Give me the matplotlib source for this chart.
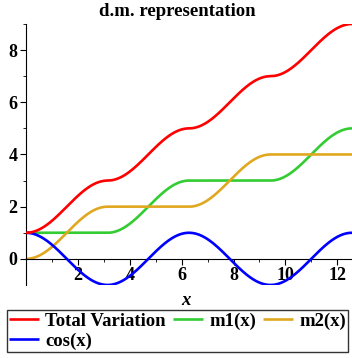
import matplotlib.pyplot as plt
import numpy as np

plt.rcParams['font.family'] = ['Liberation Serif', 'DejaVu Serif']
plt.rcParams['font.weight'] = 'bold'

# plotted functions: cos(x) and its Jordan (d.m.) decomposition on [0, 4*pi]
x_max = 4 * np.pi
labels = ['Total Variation', 'cos(x)', 'm1(x)', 'm2(x)']
colors = ['#ff0000', '#0000ff', '#33cc33', '#e0a820']
x_ticks = [2, 4, 6, 8, 10, 12]
y_ticks = [0, 2, 4, 6, 8]

x = np.linspace(0, x_max, 600)
f = np.cos(x)
df = np.diff(f, prepend=f[0])
m1 = f[0] + np.cumsum(np.clip(df, 0, None))
m2 = np.cumsum(np.clip(-df, 0, None))
tv = m1 + m2
series = [tv, f, m1, m2]

fig = plt.figure(figsize=(3.52, 3.58), dpi=100)
ax = fig.add_axes([0.074, 0.204, 0.926, 0.729])

lines = []
for y, c, lab in zip(series, colors, labels):
    ln, = ax.plot(x, y, color=c, lw=1.9, label=lab, solid_capstyle='butt')
    lines.append(ln)
# draw order: m-curves under the total variation
for ln, z in zip(lines, [4, 3, 2, 2]):
    ln.set_zorder(z)

ax.set_xlim(0, x_max)
ax.set_ylim(-1, 9)
ax.spines['top'].set_visible(False)
ax.spines['right'].set_visible(False)
ax.spines['bottom'].set_position(('data', 0))
ax.spines['left'].set_position(('data', 0))
ax.set_xticks(x_ticks)
ax.set_xticks(np.arange(1, 13, 2), minor=True)
ax.set_yticks(y_ticks)
ax.set_yticks(np.arange(1, 10, 2), minor=True)
ax.tick_params(which='major', length=4, width=0.8, labelsize=13, pad=2)
ax.tick_params(which='minor', length=2.5, width=0.6)
for t in ax.get_xticklabels() + ax.get_yticklabels():
    t.set_fontweight('bold')

fig.text(0.503, 0.967, 'd.m. representation', fontsize=13.5, fontweight='bold',
         ha='center', va='center')
fig.text(0.527, 0.16, 'x', fontsize=13.5, style='italic', fontweight='bold',
         ha='center', va='center')

leg = fig.legend(handles=lines, labels=labels, ncol=3, loc='upper left',
                 bbox_to_anchor=(0.02, 0.134), frameon=True, fancybox=False,
                 edgecolor='black', fontsize=13.5, handlelength=1.6,
                 handletextpad=0.32, columnspacing=0.38, borderpad=0.12,
                 labelspacing=0.15, borderaxespad=0)
leg.get_frame().set_linewidth(1.0)
for t in leg.get_texts():
    t.set_fontweight('bold')

fig.savefig('out.png', dpi=100)
